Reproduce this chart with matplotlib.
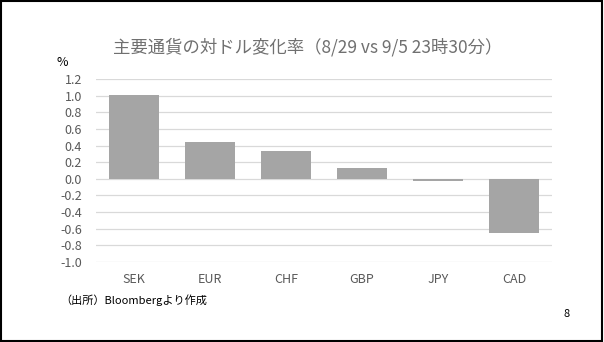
import matplotlib.pyplot as plt
from matplotlib.patches import Rectangle

plt.rcParams['font.family'] = ['Noto Sans CJK JP', 'DejaVu Sans']

currencies = ["SEK", "EUR", "CHF", "GBP", "JPY", "CAD"]
change = [1.01, 0.44, 0.33, 0.13, -0.025, -0.65]
yticks = [1.2, 1.0, 0.8, 0.6, 0.4, 0.2, 0.0, -0.2, -0.4, -0.6, -0.8, -1.0]

txt = "#595959"

fig = plt.figure(figsize=(6.04, 3.42), dpi=100)
ax = fig.add_axes([96 / 604, 80 / 342, 456 / 604, 183 / 342])

x = range(len(currencies))
ax.bar(x, change, width=0.67, color="#A5A5A5", zorder=3)
ax.set_xlim(-0.5, len(currencies) - 0.5)
ax.set_ylim(-1.0, 1.2)
ax.set_yticks(yticks)
ax.set_yticklabels([f"{v:.1f}" for v in yticks])
ax.set_xticks(list(x))
ax.set_xticklabels(currencies)
ax.grid(axis="y", color="#D9D9D9", linewidth=0.9, zorder=0)
for s in ax.spines.values():
    s.set_visible(False)
ax.tick_params(length=0, colors=txt, labelsize=9)
ax.tick_params(axis="x", pad=8)
ax.tick_params(axis="y", pad=10)

fig.text(308 / 604, 1 - 47 / 342, "主要通貨の対ドル変化率（8/29 vs 9/5 23時30分）",
         ha="center", va="center", fontsize=12.5, color="#707070")
fig.text(62 / 604, 1 - 62 / 342, "%", ha="center", va="center", fontsize=9, color="black")
fig.text(60 / 604, 1 - 300 / 342, "（出所）Bloombergより作成", ha="left", va="center",
         fontsize=8, color="black")
fig.text(567 / 604, 1 - 314 / 342, "8", ha="center", va="center", fontsize=8, color="black")

fig.patches.append(Rectangle((0.5 / 604, 1.5 / 342), 601.5 / 604, 339.5 / 342,
                             transform=fig.transFigure, fill=False,
                             edgecolor="black", linewidth=1.5))

fig.savefig("out.png", dpi=100)
